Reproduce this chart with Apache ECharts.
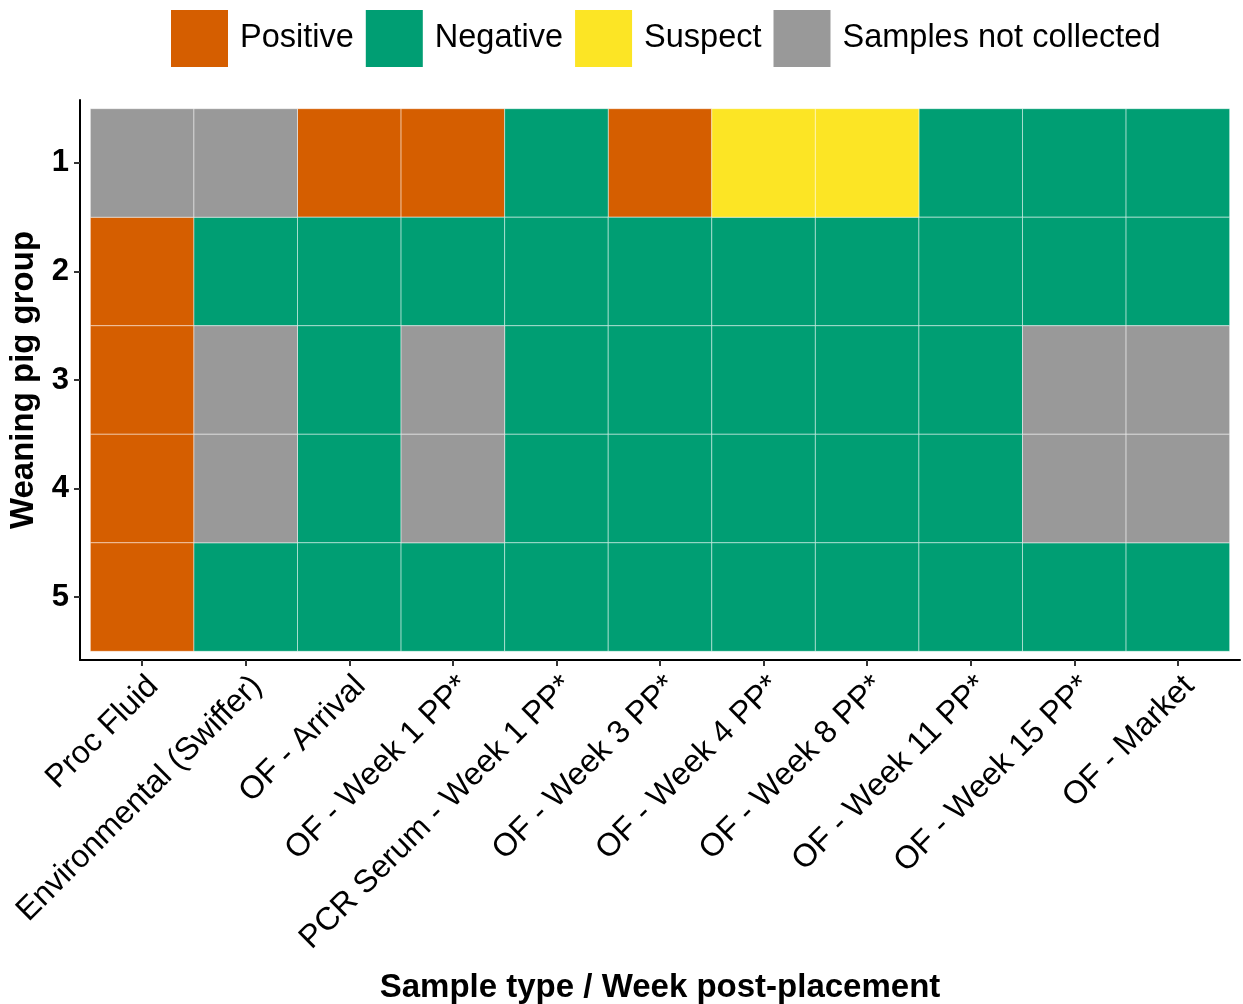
<!DOCTYPE html>
<html>
<head>
<meta charset="utf-8">
<script src="https://cdn.jsdelivr.net/npm/echarts@6/dist/echarts.min.js"></script>
<style>
  html, body { margin: 0; padding: 0; background: #fff; }
  #chart { width: 1243px; height: 1004px; }
</style>
</head>
<body>
<div id="chart"></div>
<script>
// sample types along x
let sampleTypes = ['Proc Fluid', 'Environmental (Swiffer)', 'OF - Arrival', 'OF - Week 1 PP*',
    'PCR Serum - Week 1 PP*', 'OF - Week 3 PP*', 'OF - Week 4 PP*', 'OF - Week 8 PP*',
    'OF - Week 11 PP*', 'OF - Week 15 PP*', 'OF - Market'];
let groups = ['1', '2', '3', '4', '5'];

// P = Positive, N = Negative, S = Suspect, X = Samples not collected
let group1 = ['X', 'X', 'P', 'P', 'N', 'P', 'S', 'S', 'N', 'N', 'N'];
let group2 = ['P', 'N', 'N', 'N', 'N', 'N', 'N', 'N', 'N', 'N', 'N'];
let group3 = ['P', 'X', 'N', 'X', 'N', 'N', 'N', 'N', 'N', 'X', 'X'];
let group4 = ['P', 'X', 'N', 'X', 'N', 'N', 'N', 'N', 'N', 'X', 'X'];
let group5 = ['P', 'N', 'N', 'N', 'N', 'N', 'N', 'N', 'N', 'N', 'N'];

let statusCodes = ['P', 'N', 'S', 'X'];
let statusNames = ['Positive', 'Negative', 'Suspect', 'Samples not collected'];
let statusColors = ['#D55E00', '#009E73', '#FCE525', '#999999'];

let rows = [group1, group2, group3, group4, group5];

var myChart = echarts.init(document.getElementById('chart'));

function renderTile(params, api)
{
    let x = api.value(0);
    let y = api.value(1);
    let p1 = api.coord([x - 0.5, y - 0.5]);
    let p2 = api.coord([x + 0.5, y + 0.5]);
    return {
        type: 'rect',
        shape: {
            x: Math.min(p1[0], p2[0]),
            y: Math.min(p1[1], p2[1]),
            width: Math.abs(p2[0] - p1[0]),
            height: Math.abs(p2[1] - p1[1])
        },
        style: {
            fill: api.visual('color'),
            stroke: 'rgba(255,255,255,0.45)',
            lineWidth: 1
        }
    };
}

let series = [];
statusCodes.forEach((code, k) => {
    let data = [];
    rows.forEach((row, r) => {
        row.forEach((v, c) => {
            if (v === code) data.push([c, r]);
        });
    });
    series.push({
        name: statusNames[k],
        type: 'custom',
        renderItem: renderTile,
        itemStyle: { color: statusColors[k] },
        encode: { x: 0, y: 1 },
        data: data
    });
});

let font = 'Liberation Sans, Arial, sans-serif';

let option = {
    animation: false,
    legend: {
        left: 166,
        top: 5,
        icon: 'rect',
        itemWidth: 57,
        itemHeight: 57,
        itemGap: 12,
        textStyle: { fontFamily: font, fontSize: 32.5, color: '#000', padding: [4, 0, 0, 7] },
        data: statusNames
    },
    grid: {
        left: 80,
        right: 3,
        top: 100,
        bottom: 344,
        containLabel: false,
        outerBoundsMode: 'none'
    },
    xAxis: {
        type: 'value',
        min: -0.6,
        max: 10.6,
        splitLine: { show: false },
        axisLine: { show: true, onZero: false, lineStyle: { color: '#000', width: 2 } },
        axisTick: { show: true, length: 6, customValues: [0, 1, 2, 3, 4, 5, 6, 7, 8, 9, 10], lineStyle: { color: '#333', width: 2 } },
        axisLabel: {
            customValues: [0, 1, 2, 3, 4, 5, 6, 7, 8, 9, 10],
            formatter: v => sampleTypes[Math.round(v)],
            rotate: 45,
            margin: 10,
            verticalAlign: 'top',
            fontFamily: font,
            fontSize: 32,
            color: '#000'
        },
        name: 'Sample type / Week post-placement',
        nameLocation: 'middle',
        nameGap: 311,
        nameTextStyle: { fontFamily: font, fontSize: 33, fontWeight: 'bold', color: '#000' }
    },
    yAxis: {
        type: 'value',
        inverse: true,
        min: -0.58,
        max: 4.58,
        splitLine: { show: false },
        axisLine: { show: true, onZero: false, lineStyle: { color: '#000', width: 2 } },
        axisTick: { show: true, length: 6, customValues: [0, 1, 2, 3, 4], lineStyle: { color: '#333', width: 2 } },
        axisLabel: {
            customValues: [0, 1, 2, 3, 4],
            formatter: v => groups[Math.round(v)],
            margin: 11,
            fontFamily: font,
            fontSize: 31,
            fontWeight: 'bold',
            color: '#000'
        },
        name: 'Weaning pig group',
        nameLocation: 'middle',
        nameGap: 29,
        nameTextStyle: { fontFamily: font, fontSize: 33, fontWeight: 'bold', color: '#000' }
    },
    series: series
};

myChart.setOption(option);
</script>
</body>
</html>
